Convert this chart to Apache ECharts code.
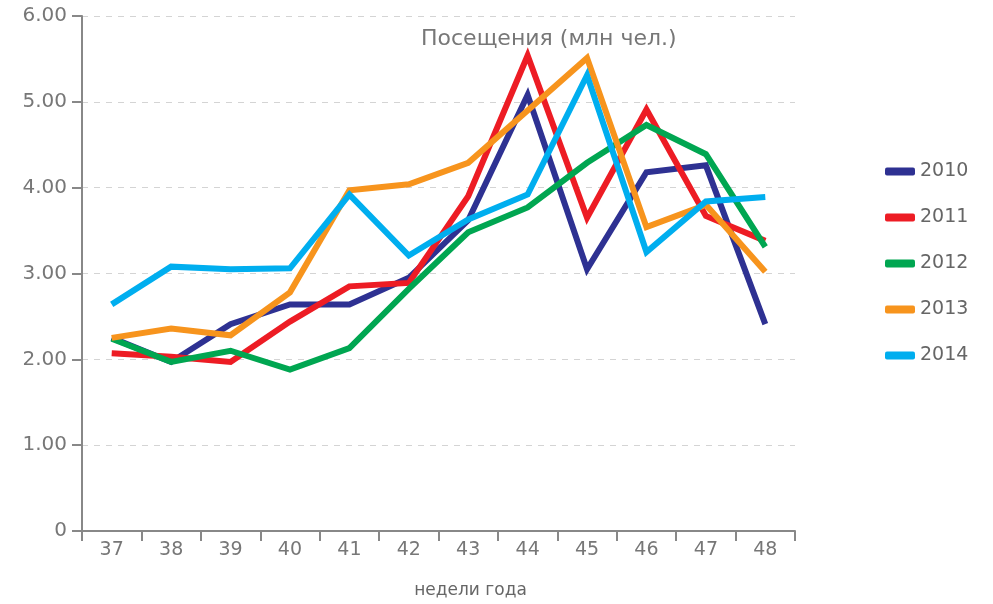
<!DOCTYPE html>
<html>
<head>
<meta charset="utf-8">
<script src="https://cdn.jsdelivr.net/npm/echarts@6/dist/echarts.min.js"></script>
<style>
  html, body { margin: 0; padding: 0; background: #fff; }
  #main { width: 993px; height: 604px; }
</style>
</head>
<body>
<div id="main"></div>
<script>
// недели года
var weeks = ['37', '38', '39', '40', '41', '42', '43', '44', '45', '46', '47', '48'];

// посещения, млн чел.
var y2010 = [2.25, 1.97, 2.41, 2.64, 2.64, 2.95, 3.62, 5.08, 3.05, 4.18, 4.26, 2.41];
var y2011 = [2.07, 2.03, 1.97, 2.44, 2.85, 2.89, 3.90, 5.54, 3.65, 4.91, 3.67, 3.38];
var y2012 = [2.24, 1.97, 2.10, 1.88, 2.13, 2.82, 3.48, 3.77, 4.29, 4.73, 4.39, 3.31];
var y2013 = [2.25, 2.36, 2.28, 2.78, 3.97, 4.04, 4.29, 4.90, 5.51, 3.54, 3.80, 3.02];
var y2014 = [2.64, 3.08, 3.05, 3.06, 3.92, 3.21, 3.63, 3.92, 5.31, 3.25, 3.84, 3.89];

var years = ['2010', '2011', '2012', '2013', '2014'];
var colors = ['#2E3192', '#ED1C24', '#00A651', '#F7941D', '#00AEEF'];

var chart = echarts.init(document.getElementById('main'));

var font = 'DejaVu Sans, sans-serif';

function line(name, data, i) {
    return {
        name: name,
        type: 'line',
        data: data,
        symbol: 'none',
        smooth: false,
        lineStyle: { width: 6, color: colors[i], join: 'miter' },
        itemStyle: { color: colors[i] },
        z: 2 + i
    };
}

var option = {
    backgroundColor: '#fff',
    animation: false,
    title: {
        text: 'Посещения (млн чел.)',
        left: 416,
        top: 23,
        textStyle: { fontFamily: font, fontSize: 22, fontWeight: 'normal', color: '#777' }
    },
    legend: {
        orient: 'vertical',
        left: 880,
        top: 157,
        itemWidth: 30,
        itemHeight: 8,
        itemGap: 27,
        icon: 'roundRect',
        data: years,
        textStyle: { fontFamily: font, fontSize: 19, color: '#666' }
    },
    grid: { left: 82, right: 198, top: 16, bottom: 71 },
    xAxis: {
        type: 'category',
        data: weeks,
        boundaryGap: true,
        name: 'недели года',
        nameLocation: 'middle',
        nameGap: 51,
        nameTextStyle: { fontFamily: font, fontSize: 17, color: '#666', padding: [0, 0, 0, 64] },
        axisLine: { lineStyle: { color: '#888', width: 2 } },
        axisTick: { show: true, length: 10, lineStyle: { color: '#888', width: 2 } },
        axisLabel: { fontFamily: font, fontSize: 19, color: '#777', margin: 10 }
    },
    yAxis: {
        type: 'value',
        min: 0,
        max: 6,
        interval: 1,
        axisLine: { show: true, lineStyle: { color: '#888', width: 2 } },
        axisTick: { show: true, length: 10, lineStyle: { color: '#888', width: 2 } },
        axisLabel: {
            fontFamily: font, fontSize: 20, color: '#777', margin: 15,
            formatter: function (v) { return v === 0 ? '0' : v.toFixed(2); }
        },
        splitLine: { lineStyle: { color: '#d4d4d4', type: [6, 6], width: 1 } }
    },
    series: [
        line('2010', y2010, 0),
        line('2011', y2011, 1),
        line('2012', y2012, 2),
        line('2013', y2013, 3),
        line('2014', y2014, 4)
    ]
};

chart.setOption(option);
</script>
</body>
</html>
